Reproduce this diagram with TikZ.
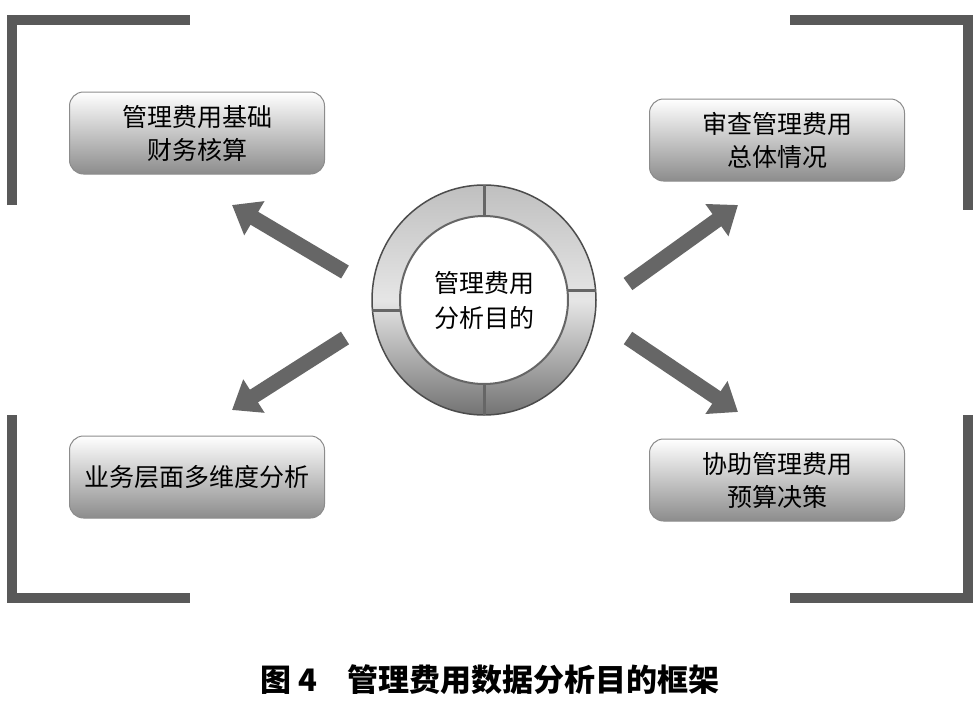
\documentclass[tikz,border=0pt]{standalone}
\usepackage{fontspec}
\setmainfont{Noto Sans CJK SC}
\usetikzlibrary{arrows.meta,shapes.geometric}
\begin{document}
\begin{tikzpicture}[x=1pt,y=-1pt,
  bracket/.style={line width=10pt,color=black!65,line cap=butt},
  box/.style={draw=black!45,line width=1pt,rounded corners=14pt,top color=white,bottom color=black!45,minimum width=255pt,minimum height=82pt,align=center,font=\fontsize{25}{33}\selectfont},
  bigarrow/.style={line width=15pt,color=black!60,-{Triangle[length=26pt,width=38pt]}}]
\useasboundingbox (0,0) rectangle (975,715);
\fill[white] (0,0) rectangle (975,715);
% brackets
\draw[bracket] (12,205) -- (12,20) -- (190,20);
\draw[bracket] (790,20) -- (968,20) -- (968,210);
\draw[bracket] (12,415) -- (12,598) -- (190,598);
\draw[bracket] (968,415) -- (968,598) -- (790,598);
% boxes
\node[box] (tl) at (197,133) {管理费用基础\\财务核算};
\node[box] (tr) at (777,140) {审查管理费用\\总体情况};
\node[box] (bl) at (197,477) {业务层面多维度分析};
\node[box] (br) at (777,480) {协助管理费用\\预算决策};
% circle
\node[ellipse,minimum width=224pt,minimum height=230pt,draw=black!70,line width=1.5pt,top color=black!25,bottom color=black!55,middle color=black!10] (ring) at (484,300) {};
\draw[black!60,line width=3pt] (484,185) -- (484,215) (484,385) -- (484,415) (372,310) -- (402,310) (566,290) -- (596,290);
\node[circle,minimum size=168pt,draw=black!60,line width=2pt,fill=white,font=\fontsize{25}{35}\selectfont,align=center] (c) at (484,300) {管理费用\\分析目的};
% arrows
\coordinate (a1) at (345,272); \coordinate (a1e) at (232,205);
\coordinate (a2) at (345,338); \coordinate (a2e) at (232,410);
\coordinate (a3) at (628,284); \coordinate (a3e) at (738,205);
\coordinate (a4) at (628,338); \coordinate (a4e) at (738,412);
\draw[bigarrow] (a1) -- (a1e);
\draw[bigarrow] (a2) -- (a2e);
\draw[bigarrow] (a3) -- (a3e);
\draw[bigarrow] (a4) -- (a4e);
\node[font=\fontsize{31}{36}\selectfont\bfseries] (cap) at (490,680) {图 4\quad 管理费用数据分析目的框架};
\end{tikzpicture}
\end{document}
